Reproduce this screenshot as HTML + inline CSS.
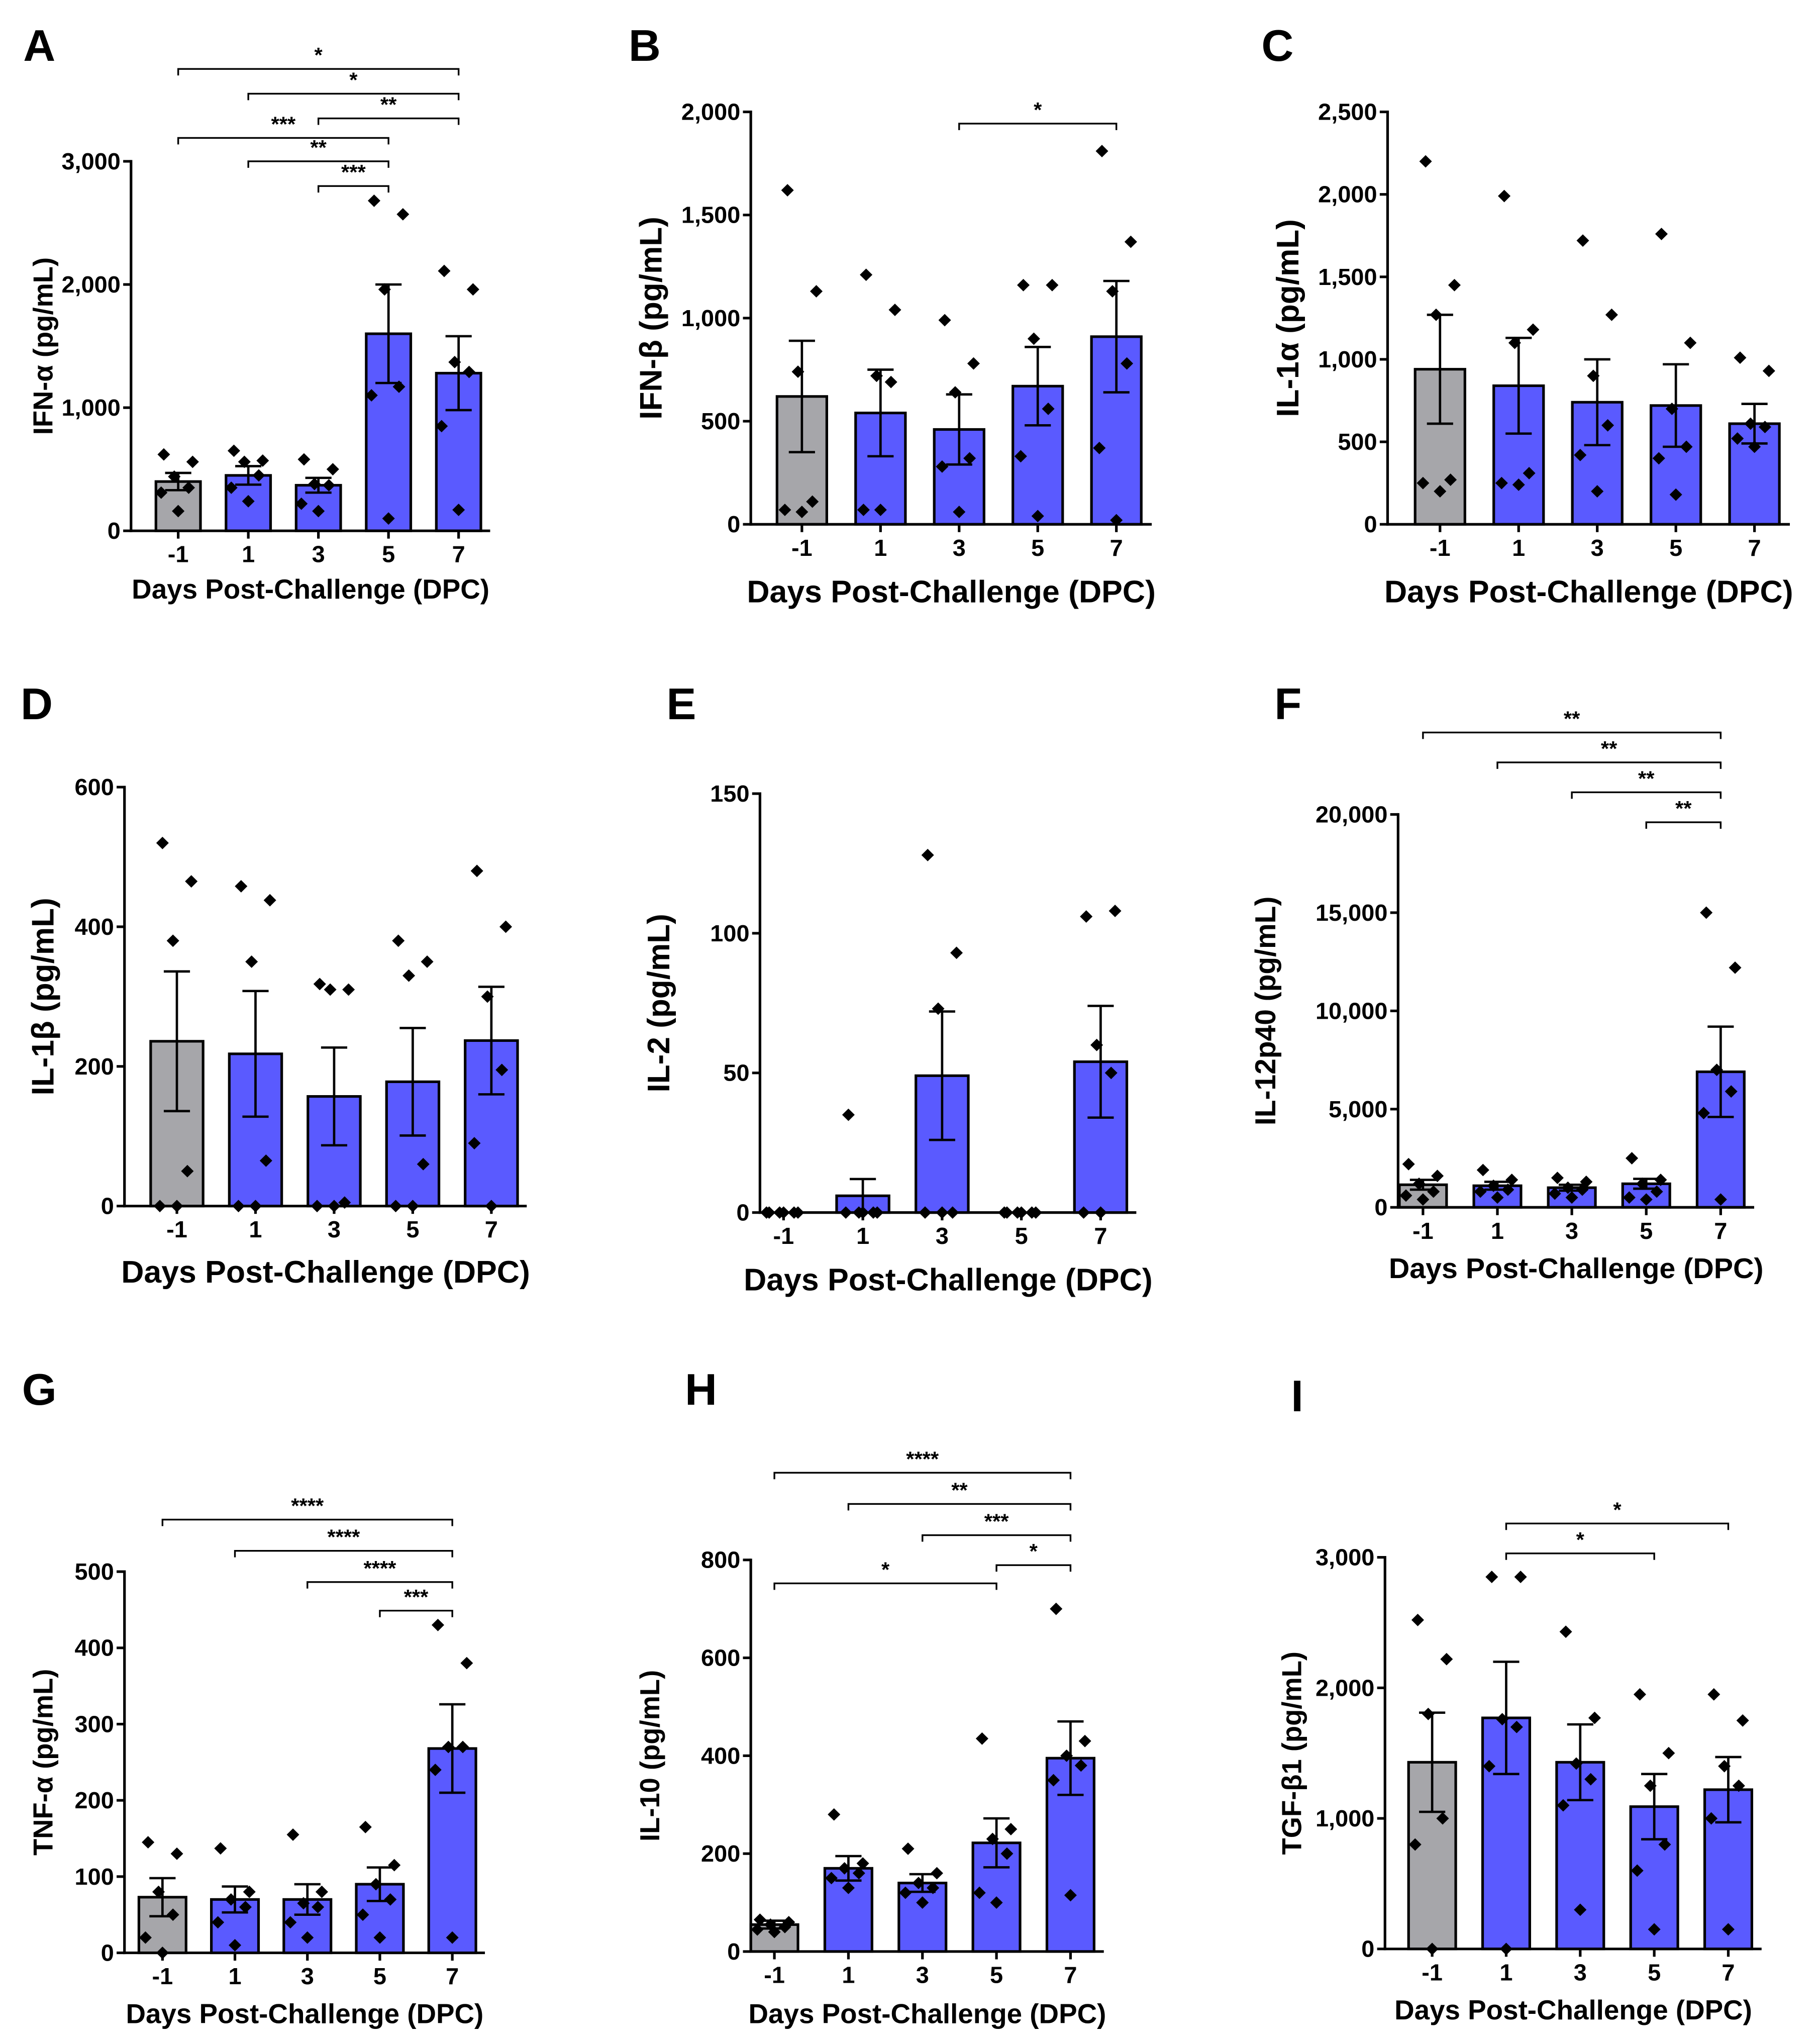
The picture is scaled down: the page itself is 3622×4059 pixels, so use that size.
<!DOCTYPE html>
<html><head><meta charset="utf-8">
<style>
html,body{margin:0;padding:0;background:#fff;}
svg{display:block;}
text{font-family:"Liberation Sans",Arial,sans-serif;font-weight:bold;fill:#000;}
</style></head>
<body>
<svg id="fig" xmlns="http://www.w3.org/2000/svg" width="3622" height="4059" viewBox="0 0 1389 1568" preserveAspectRatio="none"></svg>
<script>
// ---- data ----
const categories = ["-1","1","3","5","7"];
const meansA = [400,450,370,1600,1280];
const semA = [70,75,60,400,300];
const ptsA = [[620,560,440,350,310,160],[650,570,560,450,350,240],[580,500,380,370,220,160],[2680,2570,1960,1170,1100,100],[2110,1960,1370,1290,850,170]];
const meansB = [620,540,460,670,910];
const semB = [270,210,170,190,270];
const ptsB = [[1620,1130,740,110,70,60],[1210,1040,720,690,70,70],[990,780,640,320,280,60],[1160,1160,900,560,330,40],[1810,1370,1130,780,370,20]];
const meansC = [940,840,740,720,610];
const semC = [330,290,260,250,120];
const ptsC = [[2200,1450,1270,270,250,200],[1990,1180,1100,310,250,240],[1720,1270,900,600,420,200],[1760,1100,700,470,400,180],[1010,930,610,590,520,470]];
const meansD = [236,218,157,178,237];
const semD = [100,90,70,77,77];
const ptsD = [[520,465,380,50,0,0],[458,438,350,65,0,0],[318,310,310,5,0,0],[380,350,330,60,0,0],[480,400,300,195,90,0]];
const meansE = [0,6,49,0,54];
const semE = [0,6,23,0,20];
const ptsE = [[0,0,0,0,0,0],[35,0,0,0,0,0],[128,93,73,0,0,0],[0,0,0,0,0,0],[106,108,60,50,0,0]];
const meansF = [1150,1100,1000,1200,6900];
const semF = [250,200,150,250,2300];
const ptsF = [[2200,1600,1200,800,600,400],[1900,1400,1100,900,800,500],[1500,1300,1000,900,700,500],[2500,1400,1200,800,500,400],[15000,12200,7000,5900,4800,400]];
const meansG = [73,70,70,90,268];
const semG = [25,17,20,22,58];
const ptsG = [[145,130,80,50,20,0],[137,80,70,60,40,10],[155,80,65,60,40,20],[165,115,90,70,50,20],[430,380,270,270,240,20]];
const meansH = [55,170,140,222,395];
const semH = [8,25,18,50,75];
const ptsH = [[65,60,55,50,45,40],[280,180,170,160,150,130],[210,160,140,130,120,100],[435,250,230,200,120,100],[700,430,400,380,350,115]];
const meansI = [1430,1770,1430,1090,1220];
const semI = [380,430,290,250,250];
const ptsI = [[2520,2220,1800,1000,800,0],[2850,2850,1760,1700,1400,0],[2430,1770,1420,1300,1100,300],[1950,1500,1250,800,600,150],[1950,1750,1400,1250,1000,150]];
const ticksA=[0,1000,2000,3000], ticksB=[0,500,1000,1500,2000], ticksC=[0,500,1000,1500,2000,2500],
      ticksD=[0,200,400,600], ticksE=[0,50,100,150], ticksF=[0,5000,10000,15000,20000],
      ticksG=[0,100,200,300,400,500], ticksH=[0,200,400,600,800], ticksI=[0,1000,2000,3000];
const sigA=[[0,4,"*"],[1,4,"*"],[2,4,"**"],[0,3,"***"],[1,3,"**"],[2,3,"***"]];
const sigB=[[2,4,"*"]];
const sigF=[[0,4,"**"],[1,4,"**"],[2,4,"**"],[3,4,"**"]];
const sigG=[[0,4,"****"],[1,4,"****"],[2,4,"****"],[3,4,"***"]];
const sigH=[[0,4,"****"],[1,4,"**"],[2,4,"***"],[3,4,"*"],[0,3,"*"]];
const sigI=[[1,4,"*"],[1,3,"*"]];

// ---- layout ----
const panels=[
 {id:"a",letter:"A",lx:30,ly:35,ax:100,y0:408,yTop:124,cx0:136,dx:53.5,bw:34,ytitle:"IFN-α (pg/mL)",ytx:33,xty:453,xfs:21,m:meansA,s:semA,p:ptsA,t:ticksA,sig:sigA,sigY:[53,72,91,106,124,143]},
 {id:"b",letter:"B",lx:492,ly:35,ax:573,y0:403,yTop:86,cx0:612,dx:60,bw:38,ytitle:"IFN-β (pg/mL)",ytx:497,xty:455,xfs:24,m:meansB,s:semB,p:ptsB,t:ticksB,sig:sigB,sigY:[95]},
 {id:"c",letter:"C",lx:975,ly:35,ax:1059,y0:403,yTop:86,cx0:1099,dx:60,bw:38,ytitle:"IL-1α (pg/mL)",ytx:983,xty:455,xfs:24,m:meansC,s:semC,p:ptsC,t:ticksC,sig:[],sigY:[]},
 {id:"d",letter:"D",lx:28,ly:541,ax:95,y0:927,yTop:605,cx0:135,dx:60,bw:40,ytitle:"IL-1β (pg/mL)",ytx:33,xty:978,xfs:24,m:meansD,s:semD,p:ptsD,t:ticksD,sig:[],sigY:[]},
 {id:"e",letter:"E",lx:520,ly:541,ax:580,y0:932,yTop:610,cx0:598,dx:60.5,bw:40,ytitle:"IL-2 (pg/mL)",ytx:503,xty:984,xfs:24,m:meansE,s:semE,p:ptsE,t:ticksE,sig:[],sigY:[]},
 {id:"f",letter:"F",lx:983,ly:541,ax:1067,y0:928,yTop:626,cx0:1086,dx:56.8,bw:36,ytitle:"IL-12p40 (pg/mL)",ytx:966,xty:975,xfs:22,m:meansF,s:semF,p:ptsF,t:ticksF,sig:sigF,sigY:[563,586,609,632]},
 {id:"g",letter:"G",lx:30,ly:1068,ax:95,y0:1501,yTop:1208,cx0:124,dx:55.3,bw:36,ytitle:"TNF-α (pg/mL)",ytx:33,xty:1548,xfs:21,m:meansG,s:semG,p:ptsG,t:ticksG,sig:sigG,sigY:[1168,1192,1216,1238]},
 {id:"h",letter:"H",lx:535,ly:1068,ax:573,y0:1500,yTop:1199,cx0:591,dx:56.5,bw:36,ytitle:"IL-10 (pg/mL)",ytx:496,xty:1548,xfs:21,m:meansH,s:semH,p:ptsH,t:ticksH,sig:sigH,sigY:[1132,1156,1180,1203,1217]},
 {id:"i",letter:"I",lx:990,ly:1073,ax:1057,y0:1498,yTop:1197,cx0:1093,dx:56.5,bw:36,ytitle:"TGF-β1 (pg/mL)",ytx:986,xty:1545,xfs:21,m:meansI,s:semI,p:ptsI,t:ticksI,sig:sigI,sigY:[1171,1194]}
];
const offs=[-11,11,-3,8,-13,0];
const NS="http://www.w3.org/2000/svg";
const svg=document.getElementById("fig");
function el(tag,attrs,parent,txt){const e=document.createElementNS(NS,tag);for(const k in attrs)e.setAttribute(k,attrs[k]);if(txt!==undefined)e.textContent=txt;parent.appendChild(e);return e;}
function fmt(v){return v.toLocaleString("en-US");}

panels.forEach(P=>{
  const g=el("g",{},svg);
  
  
  const tmax=P.t[P.t.length-1];
  const Y=v=>P.y0-(v/tmax)*(P.y0-P.yTop);
  const X=i=>P.cx0+i*P.dx;
  const lt=el("text",{x:P.lx,y:P.ly,"font-size":34,"text-anchor":"middle","dominant-baseline":"central"},g,P.letter);
  
  
  P.m.forEach((v,i)=>{
    const r=el("rect",{x:X(i)-P.bw/2,y:Y(v),width:P.bw,height:Math.max(0,P.y0-Y(v)),fill:i===0?"#a6a6aa":"#5a5aff",stroke:"#000","stroke-width":2},g);
    
    
  });
  P.s.forEach((s,i)=>{
    const eg=el("g",{stroke:"#000","stroke-width":1.8},g);
    
    
    const m=P.m[i];
    el("line",{x1:X(i),x2:X(i),y1:Y(m+s),y2:Y(Math.max(0,m-s))},eg);
    el("line",{x1:X(i)-10,x2:X(i)+10,y1:Y(m+s),y2:Y(m+s)},eg);
    el("line",{x1:X(i)-10,x2:X(i)+10,y1:Y(Math.max(0,m-s)),y2:Y(Math.max(0,m-s))},eg);
  });
  P.p.forEach((arr,i)=>{
    arr.forEach((v,j)=>{
      const cx=X(i)+offs[j%offs.length], cy=Y(v), r=4.8;
      const d=el("polygon",{points:`${cx},${cy-r} ${cx+r},${cy} ${cx},${cy+r} ${cx-r},${cy}`,fill:"#000"},g);
      
      
    });
  });
  const xEnd=X(4)+P.dx*0.45;
  const ax=el("g",{stroke:"#000","stroke-width":2},g);
  
  
  el("line",{x1:P.ax,x2:P.ax,y1:P.yTop-1,y2:P.y0+1},ax);
  el("line",{x1:P.ax-1,x2:xEnd,y1:P.y0,y2:P.y0},ax);
  P.t.forEach(t=>{
    el("line",{x1:P.ax-6,x2:P.ax,y1:Y(t),y2:Y(t)},ax);
    const tl=el("text",{x:P.ax-8,y:Y(t),"font-size":18,"text-anchor":"end","dominant-baseline":"central"},g,fmt(t));
    
    
  });
  categories.forEach((c,i)=>{
    el("line",{x1:X(i),x2:X(i),y1:P.y0,y2:P.y0+6},ax);
    const tl=el("text",{x:X(i),y:P.y0+18,"font-size":18,"text-anchor":"middle","dominant-baseline":"central"},g,c);
    
    
  });
  const xt=el("text",{x:(P.ax+xEnd)/2,y:P.xty,"font-size":P.xfs,"text-anchor":"middle","dominant-baseline":"central"},g,"Days Post-Challenge (DPC)");
  
  
  const yc=(P.y0+P.yTop)/2;
  const yt=el("text",{x:P.ytx,y:yc,"font-size":P.xfs,"text-anchor":"middle","dominant-baseline":"central",transform:`rotate(-90 ${P.ytx} ${yc})`},g,P.ytitle);
  
  
  P.sig.forEach((s,k)=>{
    const y=P.sigY[k], x1=X(s[0]), x2=X(s[1]);
    const bg=el("g",{},g);
    
    
    el("path",{d:`M${x1},${y+5}V${y}H${x2}V${y+5}`,stroke:"#000","stroke-width":1.3,fill:"none"},bg);
    el("text",{x:(x1+x2)/2,y:y-5,"font-size":16,"text-anchor":"middle"},bg,s[2]);
  });
});
</script>
</body></html>
